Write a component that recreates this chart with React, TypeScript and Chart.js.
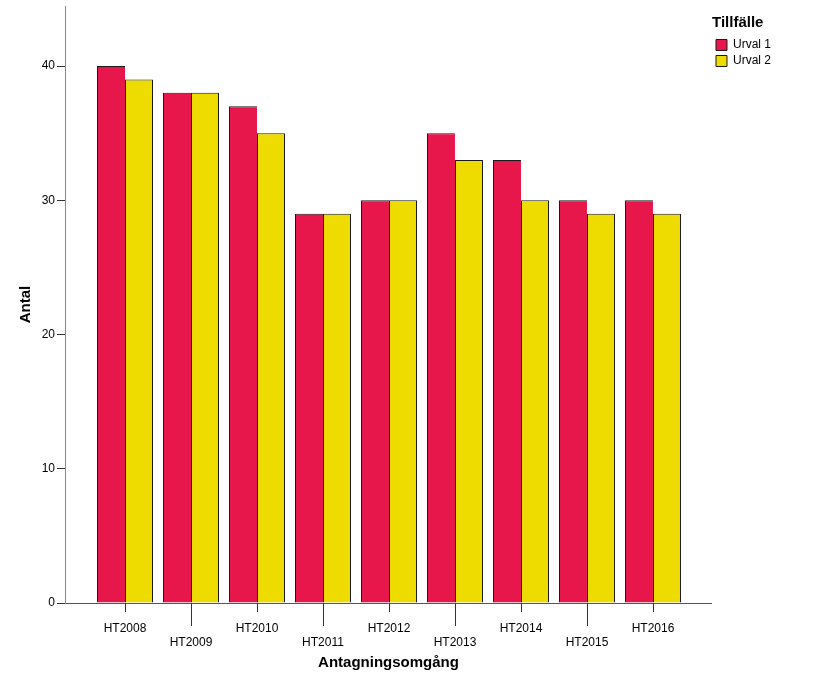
import { useEffect, useRef } from 'react';
import { Chart, registerables } from 'chart.js';

Chart.register(...registerables);

const categories = ['HT2008', 'HT2009', 'HT2010', 'HT2011', 'HT2012', 'HT2013', 'HT2014', 'HT2015', 'HT2016'];
const seriesNames = ['Urval 1', 'Urval 2'];
const urval1 = [40, 38, 37, 29, 30, 35, 33, 30, 30];
const urval2 = [39, 38, 35, 29, 30, 33, 30, 29, 29];
const yTickValues = [0, 10, 20, 30, 40];

const RED = '#E8174B';
const YELLOW = '#EEDB00';
const EDGE = '#1a1a1a';
const FONT = "'Liberation Sans', Arial, sans-serif";

const staggerTicks = {
  id: 'staggerTicks',
  afterDraw(chart: any) {
    const xs = chart.scales.x;
    const ctx = chart.ctx;
    const bottom = chart.chartArea.bottom;
    ctx.save();
    ctx.strokeStyle = '#333';
    ctx.lineWidth = 1;
    xs.ticks.forEach((_: any, i: number) => {
      const px = Math.round(xs.getPixelForTick(i)) + 0.5;
      ctx.beginPath();
      ctx.moveTo(px, bottom);
      ctx.lineTo(px, bottom + (i % 2 ? 23 : 9));
      ctx.stroke();
    });
    ctx.restore();
  },
};

export default function App() {
  const ref = useRef<HTMLCanvasElement>(null);
  useEffect(() => {
    if (!ref.current) return;
    Chart.defaults.font.family = FONT;
    const chart = new Chart(ref.current, {
      type: 'bar',
      data: {
        datasets: [
          {
            label: seriesNames[0],
            data: urval1.map((v, i) => ({ x: i, y: v })),
            backgroundColor: RED,
            borderColor: EDGE,
            borderWidth: { top: 1, left: 1, right: 0, bottom: 0 },
            borderSkipped: false,
            categoryPercentage: 56 / 66,
            barPercentage: 1,
          },
          {
            label: seriesNames[1],
            data: urval2.map((v, i) => ({ x: i, y: v })),
            backgroundColor: YELLOW,
            borderColor: EDGE,
            borderWidth: { top: 1, left: 1, right: 1, bottom: 0 },
            borderSkipped: false,
            categoryPercentage: 56 / 66,
            barPercentage: 1,
          },
        ],
      },
      options: {
        animation: false,
        responsive: true,
        maintainAspectRatio: false,
        layout: { padding: { top: 6, left: 0, bottom: 0, right: 47 } },
        plugins: {
          tooltip: { enabled: false },
          legend: {
            position: 'right',
            align: 'start',
            title: {
              display: true,
              text: 'Tillfälle',
              color: '#000',
              position: 'start',
              font: { size: 15, weight: 'bold', family: FONT },
              padding: { top: 9, bottom: 2 },
            },
            labels: {
              color: '#000',
              boxWidth: 11,
              boxHeight: 11,
              padding: 4,
              font: { size: 12, family: FONT },
              generateLabels: (c: any) =>
                c.data.datasets.map((d: any, i: number) => ({
                  text: d.label,
                  fillStyle: d.backgroundColor,
                  strokeStyle: EDGE,
                  lineWidth: 1,
                  hidden: false,
                  datasetIndex: i,
                })),
            },
          },
        },
        scales: {
          x: {
            type: 'linear',
            min: -60 / 66,
            max: -60 / 66 + 647 / 66,
            offset: false,
            z: 1,
            grid: { display: false },
            border: { display: true, color: '#555', width: 1 },
            afterBuildTicks: (s: any) => {
              s.ticks = categories.map((_, i) => ({ value: i }));
            },
            afterFit: (s: any) => {
              s.height = 84;
              s.paddingLeft = 0;
              s.paddingRight = 0;
            },
            ticks: {
              autoSkip: false,
              maxRotation: 0,
              minRotation: 0,
              padding: 11,
              color: '#000',
              font: { size: 12, family: FONT, lineHeight: 14 / 12 },
              callback: (v: any) => {
                const i = Math.round(Number(v));
                const lab = categories[i] ?? '';
                return i % 2 ? ['', lab] : lab;
              },
            },
            title: {
              display: true,
              text: 'Antagningsomgång',
              color: '#000',
              font: { size: 15, weight: 'bold', family: FONT },
              padding: { top: 0, bottom: 15 },
            },
          },
          y: {
            min: 0,
            max: 44.47,
            grid: { drawOnChartArea: false, drawTicks: true, tickLength: 8, tickColor: '#333' },
            border: { display: true, color: '#888', width: 1 },
            afterBuildTicks: (s: any) => {
              s.ticks = yTickValues.map((v) => ({ value: v }));
            },
            afterFit: (s: any) => {
              s.width = 65;
              s.paddingTop = 0;
              s.paddingBottom = 0;
            },
            ticks: {
              padding: 2,
              color: '#000',
              font: { size: 12, family: FONT },
            },
            title: {
              display: true,
              text: 'Antal',
              color: '#000',
              font: { size: 15, weight: 'bold', family: FONT },
              padding: { top: 17, bottom: 0 },
            },
          },
        },
      },
      plugins: [staggerTicks],
    } as any);
    return () => chart.destroy();
  }, []);
  return (
    <div style={{ position: 'absolute', left: 0, top: 0, width: 828, height: 687, background: '#fff' }}>
      <canvas ref={ref} />
    </div>
  );
}
